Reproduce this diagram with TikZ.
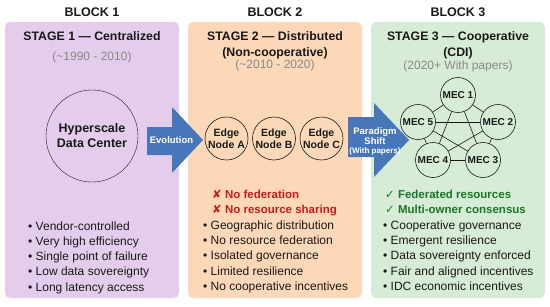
\documentclass[tikz,border=0pt]{standalone}
\usepackage{fontspec}
\setmainfont{Liberation Sans}
\newfontfamily\symfont{DejaVu Sans}
\usetikzlibrary{positioning}

\definecolor{stageone}{RGB}{228,205,236}
\definecolor{stagetwo}{RGB}{252,216,184}
\definecolor{stagethree}{RGB}{214,236,214}
\definecolor{arrowblue}{RGB}{72,118,186}
\definecolor{yeargray}{RGB}{135,135,135}
\definecolor{nored}{RGB}{200,28,28}
\definecolor{okgreen}{RGB}{28,118,38}
\definecolor{inkdark}{RGB}{25,25,25}

\begin{document}
\begin{tikzpicture}%
  [x=1pt,y=-1pt,text=inkdark,
   panel/.style={fill=#1,rounded corners=5pt},
   blocktitle/.style=
    {font=\bfseries\fontsize{12.5}{14}\selectfont,inner sep=0pt},
   stagetitle/.style=
    {font=\bfseries\fontsize{12.3}{16}\selectfont,align=center,inner sep=0pt,anchor=north},
   years/.style={text=yeargray,font=\fontsize{12}{14}\selectfont,inner sep=0pt},
   hub/.style=
    {draw=inkdark,circle,minimum size=92pt,inner sep=0pt,align=center,
     font=\bfseries\fontsize{12.5}{15}\selectfont},
   edgenode/.style=
    {draw=inkdark,semithick,circle,minimum size=43pt,inner sep=0pt,align=center,
     font=\bfseries\fontsize{10.5}{11.5}\selectfont},
   mec/.style=
    {draw=inkdark,semithick,circle,minimum size=35pt,inner sep=0pt,fill=stagethree,
     font=\bfseries\fontsize{10}{12}\selectfont},
   link/.style={draw=inkdark,semithick},
   bigarrow/.style={fill=arrowblue},
   arrowlabel/.style=
    {text=white,align=center,inner sep=0pt,font=\bfseries\fontsize{9.5}{10}\selectfont},
   facts/.style=
    {align=left,anchor=north west,inner sep=0pt,font=\fontsize{12}{15.2}\selectfont},
   lack/.style={facts,text=nored,font=\bfseries\fontsize{11.5}{15.2}\selectfont},
   gain/.style={facts,text=okgreen,font=\bfseries\fontsize{11.5}{15.2}\selectfont}
  ]
  \useasboundingbox (0,0) rectangle (550,306);

  % panels
  \fill[panel=stageone] (5,22) rectangle (179,298);
  \fill[panel=stagetwo] (188,22) rectangle (362,298);
  \fill[panel=stagethree] (371,22) rectangle (545,298);

  % headings
  \node[blocktitle] (b1) at (92,12) {BLOCK 1};
  \node[blocktitle] (b2) at (275,12) {BLOCK 2};
  \node[blocktitle] (b3) at (458,12) {BLOCK 3};
  \node[stagetitle] (s1) at (92,31.5) {STAGE 1 --- Centralized};
  \node[stagetitle] (s2) at (275,31.5) {STAGE 2 --- Distributed\\(Non-cooperative)};
  \node[stagetitle] (s3) at (458,31.5) {STAGE 3 --- Cooperative\\(CDI)};
  \node[years] (y1) at (92,57) {(\textasciitilde 1990 - 2010)};
  \node[years] (y2) at (275,65) {(\textasciitilde 2010 - 2020)};
  \node[years] (y3) at (458,66) {(2020+ With papers)};

  % stage 1
  \node[hub] (dc) at (92,136) {Hyperscale\\Data Center};

  % stage 2
  \node[edgenode] (ea) at (226.5,138.5) {Edge\\Node A};
  \node[edgenode] (eb) at (274,138.5) {Edge\\Node B};
  \node[edgenode] (ec) at (321.5,138.5) {Edge\\Node C};

  % stage 3
  \node[mec] (m1) at (458,95) {MEC 1};
  \node[mec] (m2) at (498,122) {MEC 2};
  \node[mec] (m3) at (483,160) {MEC 3};
  \node[mec] (m4) at (433,160) {MEC 4};
  \node[mec] (m5) at (418,122) {MEC 5};
  \draw[link] (m1) -- (m2);
  \draw[link] (m2) -- (m3);
  \draw[link] (m3) -- (m4);
  \draw[link] (m4) -- (m5);
  \draw[link] (m5) -- (m1);
  \draw[link] (m1) -- (m3);
  \draw[link] (m1) -- (m4);
  \draw[link] (m2) -- (m4);
  \draw[link] (m2) -- (m5);
  \draw[link] (m3) -- (m5);

  % transitions
  \fill[bigarrow] (147,127) -- (172,127) -- (172,107) -- (203,140)
    -- (172,173) -- (172,155) -- (147,155) -- cycle;
  \node[arrowlabel] (evo) at (171.5,140.5) {Evolution};
  \fill[bigarrow] (348,117) -- (374,117) -- (374,103) -- (409,140)
    -- (374,177) -- (374,157) -- (348,157) -- cycle;
  \node[arrowlabel] (shift) at (375,141.5)
    {Paradigm\\Shift\\[-1pt]{\fontsize{8}{8.5}\selectfont(With papers)}};

  % properties
  \node[facts] (f1) at (28,221.5)
    {\textbullet\ Vendor-controlled\\
     \textbullet\ Very high efficiency\\
     \textbullet\ Single point of failure\\
     \textbullet\ Low data sovereignty\\
     \textbullet\ Long latency access};
  \node[lack] (x2) at (212,190)
    {{\symfont\mdseries ✘} No federation\\
     {\symfont\mdseries ✘} No resource sharing};
  \node[facts] (f2) at (203,220.5)
    {\textbullet\ Geographic distribution\\
     \textbullet\ No resource federation\\
     \textbullet\ Isolated governance\\
     \textbullet\ Limited resilience\\
     \textbullet\ No cooperative incentives};
  \node[gain] (c3) at (385,190)
    {{\symfont\mdseries ✓} Federated resources\\
     {\symfont\mdseries ✓} Multi-owner consensus};
  \node[facts] (f3) at (383,220.5)
    {\textbullet\ Cooperative governance\\
     \textbullet\ Emergent resilience\\
     \textbullet\ Data sovereignty enforced\\
     \textbullet\ Fair and aligned incentives\\
     \textbullet\ IDC economic incentives};
\end{tikzpicture}
\end{document}
